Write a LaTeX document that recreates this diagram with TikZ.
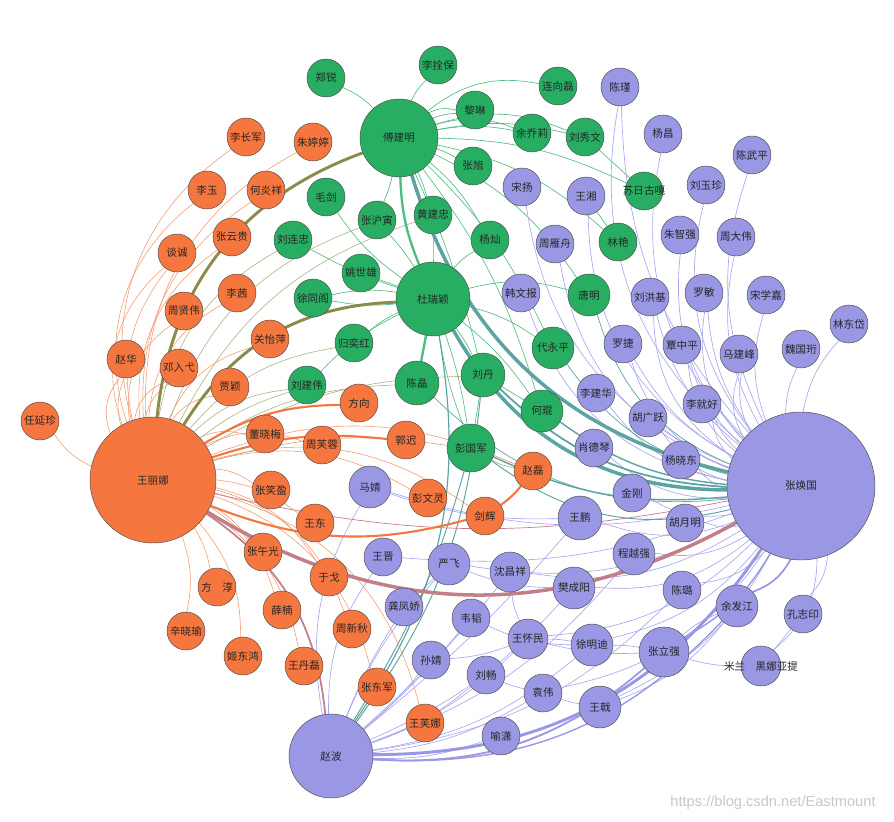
\documentclass[tikz,border=0pt]{standalone}
\usepackage{fontspec}
\usepackage{xcolor}
\usepackage{tikz}
\newfontfamily\cjk{Noto Sans CJK SC}
\newfontfamily\wmfont{Liberation Sans}

\definecolor{vorange}{HTML}{F5773F}
\definecolor{vgreen}{HTML}{28AE62}
\definecolor{vpurple}{HTML}{9A97E4}
\definecolor{eorange}{HTML}{F89A70}
\definecolor{egreen}{HTML}{4CBE84}
\definecolor{epurple}{HTML}{A8A5F0}
\definecolor{eolive}{HTML}{8B8C4A}
\definecolor{eteal}{HTML}{5CA4A2}
\definecolor{emauve}{HTML}{C27F8A}

\pgfdeclarelayer{edges}
\pgfsetlayers{edges,main}

\tikzset{
  vertex/.style={circle, draw=black!70, line width=0.4pt, inner sep=0pt,
    font=\cjk\fontsize{9}{10}\selectfont, text=black!85},
  every label/.append style={font=\cjk\fontsize{9}{10}\selectfont, text=black!85, inner sep=0pt},
  rad/.style={minimum size=#1*0.06cm},
  ov/.style={vertex, fill=vorange, rad=19},
  gv/.style={vertex, fill=vgreen, rad=19},
  pv/.style={vertex, fill=vpurple, rad=19},
  oe/.style={draw=eorange, line width=0.5pt},
  ge/.style={draw=egreen, line width=0.55pt},
  pe/.style={draw=epurple, line width=0.55pt},
  ole/.style={draw=eolive, line width=0.5pt},
  tle/.style={draw=eteal, line width=0.6pt},
  mve/.style={draw=emauve, line width=0.6pt}
}

\begin{document}
\begin{tikzpicture}[x=0.03cm, y=-0.03cm]
\useasboundingbox (0,0) rectangle (894,822);

% orange group
\node[ov, rad=63] (wln) at (153,480) {王丽娜};
\node[ov] (rzy) at (40,421) {任延珍};
\node[ov] (lcj) at (246,137) {李长军};
\node[ov] (ztt) at (313,142) {朱婷婷};
\node[ov] (ly) at (207,190) {李玉};
\node[ov] (hyx) at (266,190) {何炎祥};
\node[ov] (zyg) at (232,237) {张云贵};
\node[ov] (tc) at (177,253) {谈诚};
\node[ov] (lq) at (237,293) {李茜};
\node[ov] (zxw) at (184,311) {周贤伟};
\node[ov] (gyp) at (270,339) {关怡萍};
\node[ov] (zh) at (126,359) {赵华};
\node[ov] (dyy) at (179,368) {邓入弋};
\node[ov] (jy) at (230,387) {贾颖};
\node[ov] (fx) at (359,403) {方向};
\node[ov] (dxm) at (265,434) {董晓梅};
\node[ov] (zfr) at (322,445) {周芙蓉};
\node[ov] (gc) at (406,440) {郭迟};
\node[ov] (zl) at (533,471) {赵磊};
\node[ov] (zxy) at (271,490) {张笑盈};
\node[ov] (pwl) at (428,498) {彭文灵};
\node[ov] (jh) at (485,516) {剑辉};
\node[ov] (wd) at (315,523) {王东};
\node[ov] (zwg) at (263,552) {张午光};
\node[ov] (yg) at (329,577) {于戈};
\node[ov] (fc) at (217,587) {方\quad 淳};
\node[ov] (xn) at (282,610) {薛楠};
\node[ov] (zxq) at (352,629) {周新秋};
\node[ov] (xxy) at (186,631) {辛晓瑜};
\node[ov] (jdh) at (243,656) {姬东鸿};
\node[ov] (wdl) at (304,666) {王丹磊};
\node[ov] (zdj) at (377,687) {张东军};
\node[ov] (wfn) at (425,723) {王芙娜};

% green group
\node[gv, rad=39] (fjm) at (399,138) {傅建明};
\node[gv, rad=37] (dury) at (433,299) {杜瑞颖};
\node[gv] (lsb) at (438,65) {李拴保};
\node[gv] (zr) at (326,78) {郑锐};
\node[gv] (lxl) at (558,86) {连向磊};
\node[gv] (ll) at (475,110) {黎琳};
\node[gv] (yql) at (532,133) {余乔莉};
\node[gv] (lxw) at (585,137) {刘秀文};
\node[gv] (zx) at (473,166) {张旭};
\node[gv] (mj) at (326,197) {毛剑};
\node[gv] (zhy) at (377,220) {张沪寅};
\node[gv] (hjz) at (433,215) {黄建忠};
\node[gv] (yc) at (490,240) {杨灿};
\node[gv] (llz) at (293,240) {刘连忠};
\node[gv] (ysx) at (361,273) {姚世雄};
\node[gv] (xtg) at (313,298) {徐同阁};
\node[gv] (gyh) at (354,343) {归奕红};
\node[gv] (ljw) at (307,385) {刘建伟};
\node[gv, rad=22] (cj) at (417,383) {陈晶};
\node[gv, rad=22] (ld) at (483,375) {刘丹};
\node[gv, rad=21] (dyp) at (553,348) {代永平};
\node[gv, rad=21] (hk) at (542,411) {何琨};
\node[gv, rad=21] (tm) at (589,295) {唐明};
\node[gv, label={center:苏日古嘎}] (srgg) at (644,191) {};
\node[gv] (lyan) at (618,242) {林艳};
\node[gv, rad=24] (pgj) at (471,448) {彭国军};

% purple group
\node[pv, rad=74] (zhg) at (801,486) {张焕国};
\node[pv, rad=42] (zbo) at (331,756) {赵波};
\node[pv] (cjin) at (620,87) {陈瑾};
\node[pv] (yang) at (663,134) {杨昌};
\node[pv] (cwp) at (752,155) {陈武平};
\node[pv] (lyz) at (706,185) {刘玉珍};
\node[pv] (zzq) at (680,235) {朱智强};
\node[pv] (zdw) at (736,237) {周大伟};
\node[pv] (sy) at (522,187) {宋扬};
\node[pv] (wx) at (586,196) {王湘};
\node[pv] (zyz) at (555,244) {周雁舟};
\node[pv] (hwb) at (521,293) {韩文报};
\node[pv] (lhj) at (650,297) {刘洪基};
\node[pv] (lm) at (704,293) {罗敏};
\node[pv] (sxj) at (766,295) {宋学嘉};
\node[pv] (ldd) at (849,324) {林东岱};
\node[pv] (lj) at (623,344) {罗捷};
\node[pv] (qzp) at (682,345) {覃中平};
\node[pv] (mjf) at (739,354) {马建峰};
\node[pv] (wgh) at (801,349) {魏国珩};
\node[pv] (ljh) at (596,393) {李建华};
\node[pv] (ljhao) at (702,404) {李就好};
\node[pv] (hgy) at (648,418) {胡广跃};
\node[pv] (xdq) at (594,448) {肖德琴};
\node[pv] (yxd) at (681,460) {杨晓东};
\node[pv] (jg) at (632,493) {金刚};
\node[pv, rad=22] (wp) at (580,518) {王鹏};
\node[pv] (hym) at (685,523) {胡月明};
\node[pv, rad=21] (cyq) at (634,554) {程越强};
\node[pv, rad=21] (fcy) at (574,588) {樊成阳};
\node[pv] (cl) at (682,590) {陈璐};
\node[pv, rad=21] (yfj) at (737,606) {余发江};
\node[pv] (kzy) at (803,614) {孔志印};
\node[pv, rad=21] (mjing) at (370,487) {马婧};
\node[pv] (wj) at (383,557) {王晋};
\node[pv, rad=21] (yf) at (449,564) {严飞};
\node[pv, rad=20] (scx) at (510,572) {沈昌祥};
\node[pv] (gfj) at (404,607) {龚凤娇};
\node[pv] (wt) at (471,618) {韦韬};
\node[pv, rad=20] (whm) at (528,639) {王怀民};
\node[pv, rad=21] (xmd) at (592,645) {徐明迪};
\node[pv, rad=25] (zlq) at (664,652) {张立强};
\node[pv] (sj) at (431,660) {孙婧};
\node[pv] (lc) at (486,675) {刘畅};
\node[pv] (yw) at (543,693) {袁伟};
\node[pv, rad=21] (wji) at (600,707) {王戟};
\node[pv] (yx) at (501,736) {喻潇};
\node[pv, rad=20, label={center:米兰\quad 黑娜亚提}] (hnyt) at (761,666) {};

\node[font=\wmfont\fontsize{12.5}{14}\selectfont, text=black!22] (wm) at (773,803) {https://blog.csdn.net/Eastmount};

\begin{pgfonlayer}{edges}
% thin edges inside each group
\foreach \b/\c in {rzy/15, zh/30, zh/18, dyy/30, dyy/20, zxw/32, tc/35, tc/25, ly/35, lcj/35,
    zyg/30, hyx/30, ztt/32, lq/28, gyp/25, jy/22, dxm/20, zfr/22, zxy/15, wd/15, pwl/22,
    jh/25, zl/22, zwg/10, fc/10, xxy/15, jdh/20, xn/20, yg/22, zxq/28, wdl/22, zdj/28, wfn/30}
  \draw[oe] (wln) to[bend left=\c] (\b);

\foreach \b/\c in {lsb/10, zr/-10, lxl/25, ll/10, ll/20, yql/10, yql/18, lxw/12, lxw/20, srgg/12,
    zx/5, zhy/5, hjz/5, yc/10, tm/15, dyp/10, hk/10, ld/5, lyan/15}
  \draw[ge] (fjm) to[bend left=\c] (\b);
\foreach \b/\c in {ysx/0, xtg/-10, xtg/8, gyh/-8, ljw/-10, tm/15, dyp/10, hk/8, ld/5, pgj/5,
    pgj/-5, yc/10, mj/10, llz/5, zhy/-5, hjz/0}
  \draw[ge] (dury) to[bend left=\c] (\b);
\foreach \a/\b/\c in {ld/pgj/0, ld/hk/0, lxw/srgg/0, wx/lyan/0}
  \draw[ge] (\a) to[bend left=\c] (\b);

\foreach \b/\c in {cjin/30, cjin/20, yang/28, cwp/22, lyz/25, zzq/25, zdw/20, sy/30, wx/30,
    zyz/30, hwb/30, lhj/28, lhj/18, lm/25, lm/15, sxj/18, ldd/15, lj/25, lj/15, qzp/22,
    qzp/15, mjf/18, mjf/25, wgh/12, ljh/20, ljhao/18, ljhao/10, hgy/20, hgy/10, xdq/20,
    yxd/15, jg/20, wp/20, hym/15, cyq/20, fcy/22, cl/20, kzy/20, hnyt/25, mjing/15, wj/12,
    yf/18, scx/20, xmd/18, whm/20, wji/18, yw/22}
  \draw[pe] (zhg) to[bend left=\c] (\b);
\foreach \b/\c in {mjing/20, wj/18, yf/10, gfj/5, wt/-5, sj/-5, lc/-10, whm/-12, yw/-12,
    yx/-10, wji/-15, xmd/-15, scx/-5, fcy/-12, cl/-18, cyq/-15, wp/-5}
  \draw[pe] (zbo) to[bend left=\c] (\b);
\foreach \a/\b/\c in {zlq/yfj/10, zlq/xmd/-5, xmd/whm/-5, whm/scx/10, lc/yw/-5, yw/wji/-5,
    wji/yfj/-15, kzy/hnyt/0, zlq/hnyt/-8, mjing/wp/-10, yf/fcy/-10, gfj/yf/0, sj/whm/-8,
    wt/xmd/-12, whm/zlq/-8}
  \draw[pe] (\a) to[bend left=\c] (\b);

% thin edges between groups
\foreach \b/\c in {llz/25, zhy/25, hjz/22, ljw/18, ljw/10, gyh/20, cj/15, pgj/12, ld/14}
  \draw[ole, draw=eolive!70] (wln) to[bend left=\c] (\b);
\draw[ole, draw=eolive!70] (zl) to[bend left=10] (pgj);
\foreach \a/\c/\w in {tm/25/0.6, dyp/20/0.6, cj/25/0.6, pgj/25/0.8, pgj/15/1.2, hk/15/1.2, ld/20/1.5}
  \draw[tle, line width=\w pt] (\a) to[bend right=\c] (zhg);
\foreach \a/\c/\w in {dury/22/1, ld/15/0.8, pgj/8/0.8}
  \draw[tle, line width=\w pt] (\a) to[bend left=\c] (zbo);
\draw[mve] (zhg) to[bend left=12] (wln);

% heavy edges
\draw[ge, line width=2pt] (fjm) to[bend right=10] (dury);
\draw[ge, line width=2pt] (dury) to (cj);
\draw[draw=vorange, line width=1.8pt] (wln) to[bend left=15] (fx);
\draw[draw=vorange, line width=1.8pt] (wln) to[bend left=12] (gc);
\draw[draw=vorange, line width=1.8pt] (wln) to[bend right=18] (jh);
\draw[draw=vorange, line width=1.8pt] (jh) to[bend right=8] (zl);
\draw[ole, line width=2.5pt] (wln) to[bend left=32] (fjm);
\draw[ole, line width=2.5pt] (wln) to[bend left=28] (dury);
\draw[tle, line width=3pt] (fjm) to[bend right=30] (zhg);
\draw[tle, line width=3pt] (dury) to[bend right=30] (zhg);
\draw[mve, line width=1.5pt] (wln) to[bend left=25] (zbo);
\draw[mve, line width=3pt] (zhg) to[bend left=30] (wln);
\draw[pe, draw=vpurple, line width=1.5pt] (zhg) to[bend left=20] (yfj);
\draw[pe, draw=vpurple, line width=1.2pt] (zhg) to[bend left=15] (zlq);
\draw[pe, draw=vpurple, line width=1.5pt] (zbo) to[bend right=22] (zlq);
\draw[pe, draw=vpurple, line width=1.2pt] (zbo) to[bend right=25] (yfj);
\draw[pe, draw=vpurple, line width=2.5pt] (zhg) to[bend left=28] (zbo);
\end{pgfonlayer}
\end{tikzpicture}
\end{document}
